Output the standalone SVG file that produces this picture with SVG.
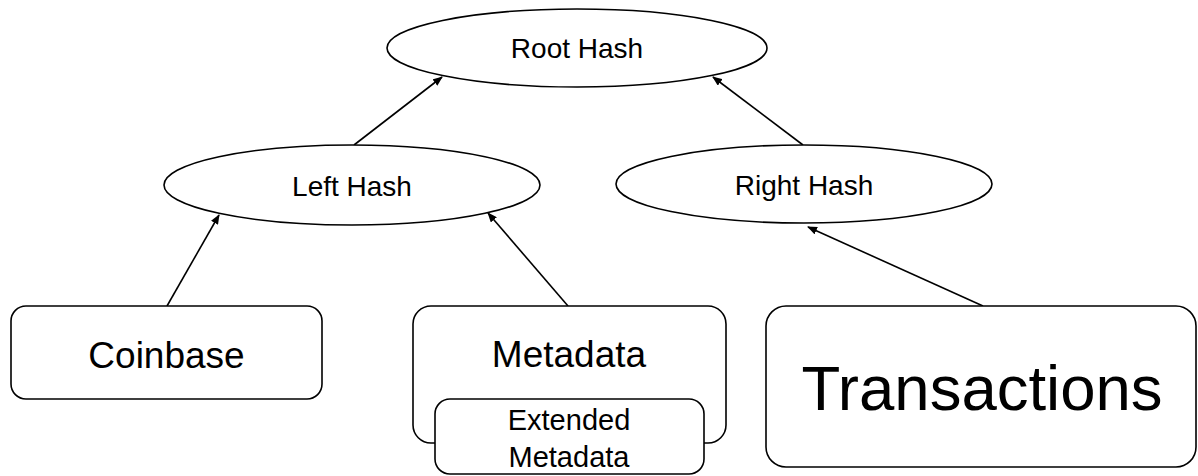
<svg xmlns="http://www.w3.org/2000/svg" width="1198" height="476" viewBox="0 0 1198 476">
  <style>
    .shape { fill: #ffffff; stroke: #000000; stroke-width: 1.6; }
    .edge { fill: none; stroke: #000000; stroke-width: 1.6; marker-end: url(#arrow); }
    .label { font-family: "Liberation Sans", Arial, sans-serif; fill: #000000; text-anchor: middle; }
  </style>
  <defs>
    <marker id="arrow" markerWidth="10" markerHeight="8" refX="9" refY="4" orient="auto" markerUnits="userSpaceOnUse">
      <path d="M0,0 L10,4 L0,8 Z" fill="#000000"/>
    </marker>
  </defs>
  <rect width="1198" height="476" fill="#ffffff"/>

  <g id="connectors">
    <line class="edge" x1="354" y1="145" x2="442" y2="77"/>
    <line class="edge" x1="803" y1="145" x2="713" y2="77"/>
    <line class="edge" x1="167" y1="306" x2="219" y2="215"/>
    <line class="edge" x1="568" y1="306" x2="488" y2="213"/>
    <line class="edge" x1="983" y1="306" x2="808" y2="227"/>
  </g>

  <g id="root-hash">
    <ellipse class="shape" cx="577" cy="48" rx="190" ry="39"/>
    <text class="label" x="577" y="58" font-size="28">Root Hash</text>
  </g>

  <g id="left-hash">
    <ellipse class="shape" cx="352" cy="185" rx="188" ry="40"/>
    <text class="label" x="352" y="196" font-size="28">Left Hash</text>
  </g>

  <g id="right-hash">
    <ellipse class="shape" cx="804" cy="184" rx="188" ry="39"/>
    <text class="label" x="804" y="195" font-size="28">Right Hash</text>
  </g>

  <g id="coinbase">
    <rect class="shape" x="11" y="306" width="311" height="93" rx="15" ry="15"/>
    <text class="label" x="166.5" y="368" font-size="37">Coinbase</text>
  </g>

  <g id="metadata">
    <rect class="shape" x="413" y="306" width="313" height="137" rx="18" ry="18"/>
    <text class="label" x="569" y="367" font-size="37">Metadata</text>
  </g>

  <g id="extended-metadata">
    <rect class="shape" x="435" y="399" width="269" height="75" rx="15" ry="15"/>
    <text class="label" x="569" y="430" font-size="29">Extended</text>
    <text class="label" x="569" y="467" font-size="29">Metadata</text>
  </g>

  <g id="transactions">
    <rect class="shape" x="766" y="306" width="430" height="161" rx="20" ry="20"/>
    <text class="label" x="982" y="410" font-size="63.5">Transactions</text>
  </g>
</svg>
